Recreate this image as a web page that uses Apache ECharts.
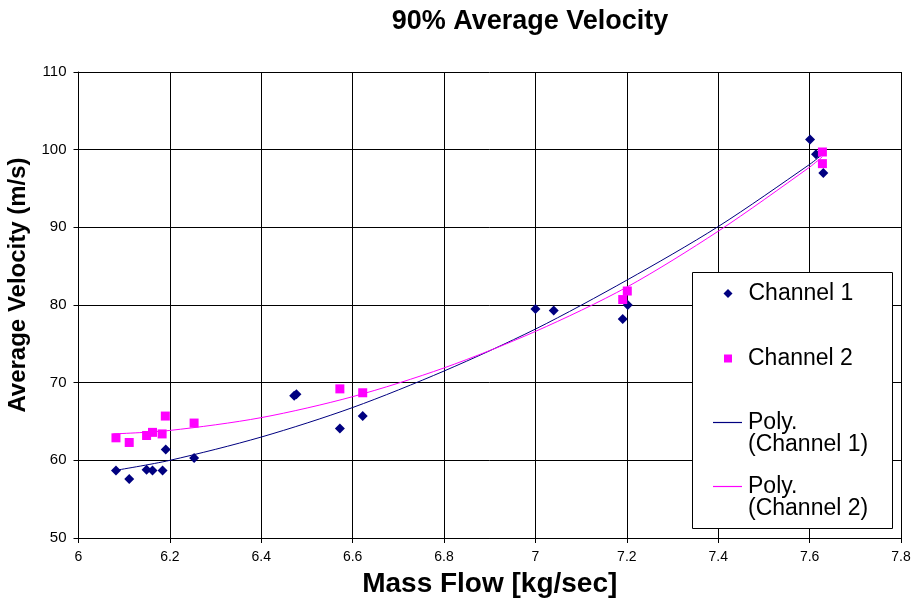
<!DOCTYPE html>
<html>
<head>
<meta charset="utf-8">
<script src="https://cdn.jsdelivr.net/npm/echarts@6/dist/echarts.min.js"></script>
<style>html,body{margin:0;padding:0;background:#fff}#c{width:912px;height:600px}</style>
</head>
<body>
<div id="c"></div>
<script>
// Channel 1 measurements (Mass Flow kg/sec, Average Velocity m/s)
var ch1X = [6.082, 6.111, 6.149, 6.162, 6.184, 6.191, 6.253, 6.472, 6.477, 6.572, 6.622, 7.000, 7.040, 7.191, 7.202, 7.601, 7.614, 7.630];
var ch1Y = [58.7, 57.6, 58.8, 58.7, 58.7, 61.4, 60.3, 68.3, 68.5, 64.1, 65.7, 79.5, 79.3, 78.2, 80.0, 101.3, 99.4, 97.0];
// Channel 2 measurements
var ch2X = [6.082, 6.111, 6.149, 6.162, 6.183, 6.190, 6.253, 6.572, 6.622, 7.191, 7.201, 7.628, 7.628];
var ch2Y = [62.9, 62.3, 63.2, 63.6, 63.4, 65.7, 64.8, 69.2, 68.7, 80.7, 81.8, 99.7, 98.2];
// Polynomial trend lines
var trend1X = [6.08, 6.2, 6.4, 6.6, 6.8, 7.0, 7.2, 7.4, 7.6, 7.628];
var trend1Y = [58.7, 60.0, 63.0, 66.8, 71.5, 76.9, 83.2, 90.1, 98.1, 99.4];
var trend2X = [6.076, 6.2, 6.4, 6.6, 6.8, 7.0, 7.2, 7.4, 7.6, 7.628];
var trend2Y = [63.4, 63.85, 65.5, 68.2, 71.9, 76.6, 82.3, 89.5, 97.75, 99.1];

var names = ['Channel 1', 'Channel 2', 'Poly. (Channel 1)', 'Poly. (Channel 2)'];
var labels = ['Channel 1', 'Channel 2', '\nPoly.\n(Channel 1)', '\nPoly.\n(Channel 2)'];

function pairs(xs, ys) { return xs.map(function (x, i) { return [x, ys[i]]; }); }

var FONT = 'Arial, "Liberation Sans", sans-serif';
var NAVY = '#000080', PINK = '#FF00FF';

function legendFor(idx, left, top, icon, w, h) {
  return {
    data: [{ name: names[idx], icon: icon }],
    orient: 'vertical',
    left: left, top: top,
    padding: 0,
    itemWidth: w, itemHeight: h,
    formatter: function () { return labels[idx]; },
    textStyle: {
      fontFamily: FONT, fontSize: 23, color: '#000', lineHeight: 22,
      padding: [0, 0, 0, (w < 20 ? 11 : 1)]
    },
    z: 5
  };
}

var chart = echarts.init(document.getElementById('c'), null, { renderer: 'canvas' });
chart.setOption({
  animation: false,
  backgroundColor: '#fff',
  title: {
    text: '90% Average Velocity',
    left: 525, top: 3, textAlign: 'center',
    textStyle: { fontFamily: FONT, fontSize: 27, fontWeight: 'bold', color: '#000' }
  },
  grid: { left: 78.5, right: 11, top: 72, bottom: 62, containLabel: false, outerBoundsMode: 'none' },
  xAxis: {
    type: 'value', min: 6, max: 7.8, interval: 0.2,
    name: 'Mass Flow [kg/sec]', nameLocation: 'middle', nameGap: 32,
    nameTextStyle: { fontFamily: FONT, fontSize: 28, fontWeight: 'bold', color: '#000' },
    axisLine: { show: true, onZero: false, lineStyle: { color: '#000', width: 1 } },
    axisTick: { show: true, inside: false, length: 5, lineStyle: { color: '#000' } },
    axisLabel: { fontFamily: FONT, fontSize: 14, color: '#000', margin: 12 },
    splitLine: { show: true, lineStyle: { color: '#000', width: 1 } }
  },
  yAxis: {
    type: 'value', min: 50, max: 110, interval: 10,
    name: 'Average Velocity (m/s)', nameLocation: 'middle', nameGap: 42,
    nameTextStyle: { fontFamily: FONT, fontSize: 24, fontWeight: 'bold', color: '#000', padding: [0, 0, 0, 40] },
    axisLine: { show: true, onZero: false, lineStyle: { color: '#000', width: 1 } },
    axisTick: { show: true, inside: false, length: 5, lineStyle: { color: '#000' } },
    axisLabel: { fontFamily: FONT, fontSize: 15, color: '#000', margin: 12 },
    splitLine: { show: true, lineStyle: { color: '#000', width: 1 } }
  },
  legend: [
    legendFor(0, 723.5, 282, 'diamond', 9, 9),
    legendFor(1, 724, 347, 'rect', 8, 8),
    legendFor(2, 713, 389, 'rect', 29, 1.2),
    legendFor(3, 713, 453, 'rect', 29, 1.2)
  ],
  graphic: [{
    type: 'rect', z: 3, silent: true,
    shape: { x: 692.5, y: 272.5, width: 200, height: 256 },
    style: { fill: '#fff', stroke: '#000', lineWidth: 1 }
  }],
  series: [
    {
      name: names[0], type: 'scatter', data: pairs(ch1X, ch1Y),
      symbol: 'diamond', symbolSize: 10, itemStyle: { color: NAVY, opacity: 1 }, z: 2
    },
    {
      name: names[1], type: 'scatter', data: pairs(ch2X, ch2Y),
      symbol: 'rect', symbolSize: 9, itemStyle: { color: PINK, opacity: 1 }, z: 2
    },
    {
      name: names[2], type: 'line', data: pairs(trend1X, trend1Y), smooth: 0.3,
      showSymbol: false, color: NAVY, lineStyle: { color: NAVY, width: 1 }, z: 2
    },
    {
      name: names[3], type: 'line', data: pairs(trend2X, trend2Y), smooth: 0.3,
      showSymbol: false, color: PINK, lineStyle: { color: PINK, width: 1 }, z: 2
    }
  ]
});
</script>
</body>
</html>
